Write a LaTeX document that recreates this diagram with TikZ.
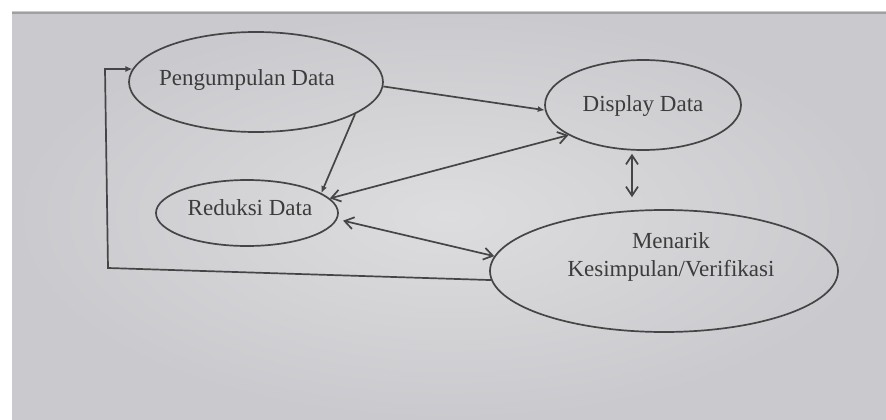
\documentclass[tikz,border=0pt]{standalone}
\usepackage{fontspec}
\setmainfont{Liberation Serif}
\usetikzlibrary{arrows.meta,shapes.geometric,calc}
\definecolor{inkc}{HTML}{454545}
\definecolor{txtc}{HTML}{3c3c3c}
\definecolor{pagein}{HTML}{DDDDDF}
\definecolor{pageout}{HTML}{CACACE}
\definecolor{edgec}{HTML}{A0A0A0}
\tikzset{
  proc/.style={draw=inkc, line width=1.7pt, ellipse, inner sep=0pt},
  proctext/.style={text=txtc, align=center, inner sep=0pt, font=\fontsize{23}{28}\selectfont},
  onearr/.style={draw=inkc, line width=1.7pt, -{Latex[length=7pt,width=6pt]}},
  twoarr/.style={draw=inkc, line width=1.7pt,
    {Straight Barb[length=9pt,width=12pt,line width=1.7pt]}-{Straight Barb[length=9pt,width=12pt,line width=1.7pt]}},
  loopline/.style={draw=inkc, line width=1.7pt, -{Latex[length=7pt,width=6pt]}}
}
\begin{document}
\begin{tikzpicture}[x=1pt,y=-1pt]
\useasboundingbox (0,0) rectangle (886,420);
\fill[white] (0,0) rectangle (886,420);
\shade[inner color=pagein, outer color=pageout] (12,12) rectangle (886,420);
\draw[edgec, line width=2pt] (12,13) -- (886,13);

\node[proc, minimum width=254pt, minimum height=100pt,
  label={[proctext, name=pengtxt, xshift=-9pt, yshift=2pt]center:Pengumpulan Data}] (peng) at (256,82) {};
\node[proc, minimum width=196pt, minimum height=90pt,
  label={[proctext, name=disptxt, yshift=-1pt]center:Display Data}] (disp) at (643,105) {};
\node[proc, minimum width=182pt, minimum height=66pt,
  label={[proctext, name=redtxt, xshift=3pt, yshift=5pt]center:Reduksi Data}] (red) at (247,213) {};
\node[proc, minimum width=348pt, minimum height=122pt,
  label={[proctext, name=mentxt, xshift=7pt, yshift=14pt]center:Menarik\\Kesimpulan/Verifikasi}] (men) at (664,271) {};

\coordinate (fbA) at (108,268);
\coordinate (fbB) at (105,69);
\coordinate (vx) at (632,0);

\draw[onearr] (peng.-2) -- (disp.183);
\draw[onearr] (peng.-18) -- (red.15);
\draw[twoarr] (red.10) -- (disp.202);
\draw[twoarr, shorten <=6pt] (red.-4) -- (men.175);
\draw[twoarr, shorten <=3pt, shorten >=12pt] (disp.south -| vx) -- (men.north -| vx);
\draw[loopline] (men.183) -- (fbA) -- (fbB) -- (peng.174);
\end{tikzpicture}
\end{document}
